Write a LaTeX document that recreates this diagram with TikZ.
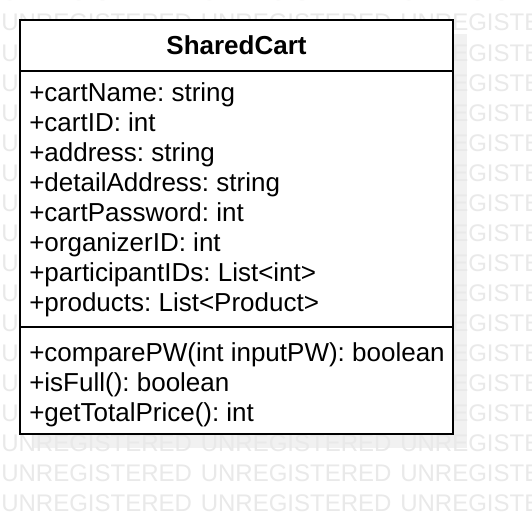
\documentclass[tikz,border=0pt]{standalone}
\usepackage{fontspec}
\setmainfont{Liberation Sans}
\usepackage{tikz}
\definecolor{wmgray}{RGB}{233,233,233}
\definecolor{shadowgray}{RGB}{241,241,241}
\frenchspacing

\begin{document}
\begin{tikzpicture}[x=0.75pt,y=0.75pt,yscale=-1,xscale=1,
  member/.style={anchor=base west, inner sep=0pt, font=\fontsize{19.5}{22.5}\selectfont},
  classname/.style={anchor=base, inner sep=0pt, font=\fontsize{19.5}{22.5}\selectfont\bfseries},
  watermark/.style={anchor=base west, inner sep=0pt, text=wmgray, font=\fontsize{18}{18}\selectfont}]
%set diagram left start at 0, and has height of 514
\useasboundingbox (0,0) rectangle (532,514);
\fill [white] (0,0) rectangle (532,514);

%Shape: Rectangle [id:shadow] 
\fill [shadowgray] (34,34) rectangle (467,448);

% Watermark rows (only what the class box leaves visible)
\begin{scope}
\clip (0,0) rectangle (532,514);
\foreach \r in {0,1,15,16,17} {
  \foreach \c in {0,1,2} {
    \node [watermark] (wm-\r-\c) at (1+199.5*\c, 1+30*\r) {UNREGISTERED};
  }
}
\foreach \r in {2,...,14} {
  \node [watermark] (wm-\r-0) at (1, 1+30*\r) {U};
  \node [watermark] (wm-\r-2) at (400, 1+30*\r) {UNREGISTERED};
}
\end{scope}

%Shape: Rectangle [id:classbox] 
\draw [line width=1.5, fill=white] (20,20) rectangle (453,434);
%Straight Lines [id:titlediv] 
\draw [line width=1.5]   (20,71) -- (453,71) ;
%Straight Lines [id:attrdiv] 
\draw [line width=1.5]   (20,326.5) -- (453,326.5) ;

% Text Node
\draw (236.5,54.5) node [classname] (title) {SharedCart};
% Text Node
\draw (29,101) node [member] (cartName) {+cartName: string};
% Text Node
\draw (29,131) node [member] (cartID) {+cartID: int};
% Text Node
\draw (29,161) node [member] (address) {+address: string};
% Text Node
\draw (29,191) node [member] (detailAddress) {+detailAddress: string};
% Text Node
\draw (29,221) node [member] (cartPassword) {+cartPassword: int};
% Text Node
\draw (29,251) node [member] (organizerID) {+organizerID: int};
% Text Node
\draw (29,281) node [member] (participantIDs) {+participantIDs: List<int>};
% Text Node
\draw (29,311) node [member] (products) {+products: List<Product>};
% Text Node
\draw (29,361) node [member] (comparePW) {+comparePW(int inputPW): boolean};
% Text Node
\draw (29,391) node [member] (isFull) {+isFull(): boolean};
% Text Node
\draw (29,421) node [member] (getTotalPrice) {+getTotalPrice(): int};

\end{tikzpicture}
\end{document}
